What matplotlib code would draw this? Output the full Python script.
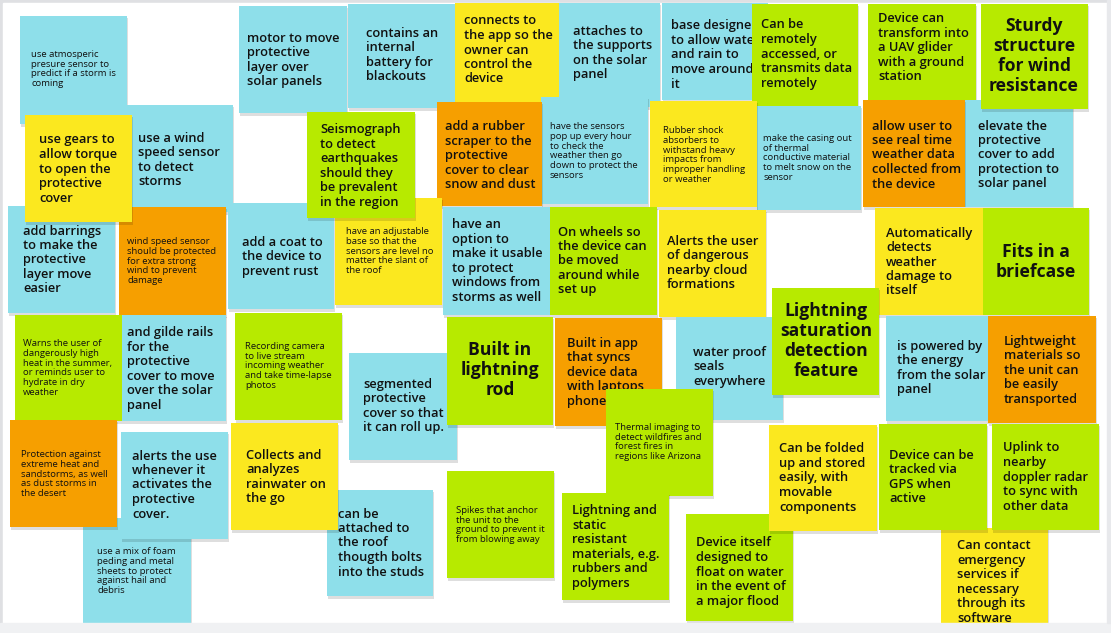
import matplotlib
matplotlib.use("Agg")
import matplotlib.pyplot as plt
from matplotlib.patches import Rectangle

# ---------------- data: note texts and their colour groups ----------------
note_texts = [
    "use atmosperic\npresure sensor to\npredict if a storm is\ncoming",
    "use a wind\nspeed sensor\nto detect\nstorms",
    "add barrings\nto make the\nprotective\nlayer move\neasier",
    "wind speed sensor\nshould be protected\nfor extra strong\nwind to prevent\ndamage",
    "use gears to\nallow torque\nto open the\nprotective\ncover",
    "motor to move\nprotective\nlayer over\nsolar panels",
    "contains an\ninternal\nbattery for\nblackouts",
    "connects to\nthe app so the\nowner can\ncontrol the\ndevice",
    "attaches to\nthe supports\non the solar\npanel",
    "base designed\nto allow water\nand rain to\nmove around\nit",
    "Can be\nremotely\naccessed, or\ntransmits data\nremotely",
    "Device can\ntransform into\na UAV glider\nwith a ground\nstation",
    "elevate the\nprotective\ncover to add\nprotection to\nsolar panel",
    "Sturdy\nstructure\nfor wind\nresistance",
    "make the casing out\nof thermal\nconductive material\nto melt snow on the\nsensor",
    "allow user to\nsee real time\nweather data\ncollected from\nthe device",
    "Rubber shock\nabsorbers to\nwithstand heavy\nimpacts from\nimproper handling\nor weather",
    "have the sensors\npop up every hour\nto check the\nweather then go\ndown to protect the\nsensors",
    "add a rubber\nscraper to the\nprotective\ncover to clear\nsnow and dust",
    "add a coat to\nthe device to\nprevent rust",
    "have an adjustable\nbase so that the\nsensors are level no\nmatter the slant of\nthe roof",
    "Seismograph\nto detect\nearthquakes\nshould they\nbe prevalent\nin the region",
    "have an\noption to\nmake it usable\nto protect\nwindows from\nstorms as well",
    "On wheels so\nthe device can\nbe moved\naround while\nset up",
    "Alerts the user\nof dangerous\nnearby cloud\nformations",
    "Automatically\ndetects\nweather\ndamage to\nitself",
    "Fits in a\nbriefcase",
    "Warns the user of\ndangerously high\nheat in the summer,\nor reminds user to\nhydrate in dry\nweather",
    "and gilde rails\nfor the\nprotective\ncover to move\nover the solar\npanel",
    "Recording camera\nto live stream\nincoming weather\nand take time-lapse\nphotos",
    "segmented\nprotective\ncover so that\nit can roll up.",
    "Built in\nlightning\nrod",
    "water proof\nseals\neverywhere",
    "Lightning\nsaturation\ndetection\nfeature",
    "Built in app\nthat syncs\ndevice data\nwith laptops\nphones",
    "Thermal imaging to\ndetect wildfires and\nforest fires in\nregions like Arizona",
    "is powered by\nthe energy\nfrom the solar\npanel",
    "Lightweight\nmaterials so\nthe unit can\nbe easily\ntransported",
    "use a mix of foam\npeding and metal\nsheets to protect\nagainst hail and\ndebris",
    "Protection against\nextreme heat and\nsandstorms, as well\nas dust storms in\nthe desert",
    "alerts the use\nwhenever it\nactivates the\nprotective\ncover.",
    "can be\nattached to\nthe roof\nthougth bolts\ninto the studs",
    "Collects and\nanalyzes\nrainwater on\nthe go",
    "Spikes that anchor\nthe unit to the\nground to prevent it\nfrom blowing away",
    "Lightning and\nstatic\nresistant\nmaterials, e.g.\nrubbers and\npolymers",
    "Device itself\ndesigned to\nfloat on water\nin the event of\na major flood",
    "Can be folded\nup and stored\neasily, with\nmovable\ncomponents",
    "Can contact\nemergency\nservices if\nnecessary\nthrough its\nsoftware",
    "Device can be\ntracked via\nGPS when\nactive",
    "Uplink to\nnearby\ndoppler radar\nto sync with\nother data",
]

note_groups = [
    "blue", "blue", "blue", "orange", "yellow",
    "blue", "blue", "yellow", "blue", "blue",
    "green", "green", "blue", "green", "blue",
    "orange", "yellow", "blue", "orange", "blue",
    "yellow", "green", "blue", "green", "yellow",
    "yellow", "green", "green", "blue", "green",
    "blue", "green", "blue", "green", "orange",
    "green", "blue", "orange", "blue", "orange",
    "blue", "blue", "yellow", "green", "green",
    "green", "yellow", "yellow", "green", "green",
]

# ---------------- layout (pixel boxes, text anchor, text size) ----------------
note_boxes = [
    (20, 16, 127, 124), (126, 105, 233, 212), (8, 206, 115, 313), (119, 207, 226, 315),
    (25, 115, 132, 222), (239, 6, 347, 113), (348, 4, 455, 108), (455, 3, 560, 105),
    (559, 3, 660, 107), (662, 3, 768, 100), (752, 4, 858, 107), (868, 4, 976, 100),
    (965, 100, 1073, 207), (981, 4, 1088, 109), (757, 106, 861, 210), (863, 100, 965, 207),
    (650, 101, 757, 207), (541, 97, 648, 204), (437, 102, 542, 206), (228, 203, 334, 309),
    (335, 198, 442, 305), (307, 112, 415, 218), (443, 207, 550, 315), (550, 207, 657, 315),
    (659, 210, 766, 317), (875, 208, 983, 315), (983, 208, 1089, 315), (15, 315, 122, 421),
    (122, 315, 226, 421), (235, 313, 342, 420), (349, 353, 457, 460), (447, 317, 553, 425),
    (676, 317, 783, 420), (772, 288, 879, 395), (555, 318, 662, 426), (606, 389, 713, 496),
    (886, 316, 988, 421), (988, 316, 1096, 423), (83, 518, 191, 630), (10, 420, 117, 527),
    (121, 432, 228, 539), (327, 490, 433, 596), (231, 423, 338, 530), (447, 471, 554, 578),
    (562, 493, 669, 600), (686, 514, 793, 621), (769, 425, 877, 531), (941, 528, 1048, 630),
    (879, 424, 987, 530), (992, 424, 1099, 530),
]

text_anchor = [
    (31, 69), (138, 160), (23, 260), (127, 261), (39, 169), (247, 60), (366, 55), (464, 50),
    (573, 53), (671, 55), (761, 54), (878, 48), (978, 155), (1034, 56), (763, 158), (872, 155),
    (663, 155), (550, 151), (445, 156), (242, 257), (346, 251), (320, 166), (452, 261), (558, 261),
    (667, 263), (886, 262), (1036, 262), (23, 368), (127, 369), (245, 366), (363, 406), (500, 370),
    (693, 367), (826, 341), (567, 372), (615, 442), (897, 368), (1004, 370), (97, 571), (21, 474),
    (132, 485), (338, 543), (246, 477), (456, 525), (572, 547), (696, 572), (779, 478), (957, 582),
    (889, 477), (1003, 477),
]

text_size = [
    "S", "M", "M", "S", "M", "M", "M", "M", "M", "M",
    "M", "M", "M", "L", "S", "M", "S", "S", "M", "M",
    "S", "M", "M", "M", "M", "M", "L", "S", "M", "S",
    "M", "L", "M", "L", "M", "S", "M", "M", "S", "S",
    "M", "M", "M", "S", "M", "M", "M", "M", "M", "M",
]

palette = {"blue": "#8edfea", "yellow": "#fbe81f", "green": "#b7ea00", "orange": "#f69f00"}
size_style = {"S": (6.8, "normal", 1.13), "M": (9.3, "semibold", 1.15), "L": (12.6, "bold", 1.15)}
FAMILY = ["Open Sans", "DejaVu Sans"]

W, H = 1111, 633
fig = plt.figure(figsize=(W / 100, H / 100), dpi=100, facecolor="#eff0f2")
ax = fig.add_axes([0, 0, 1, 1])
ax.set_xlim(0, W)
ax.set_ylim(H, 0)
ax.axis("off")

# board frame
ax.add_patch(Rectangle((0, 0), W, 3, color="#dfe0e3", zorder=0))
ax.add_patch(Rectangle((0, 0), 3, 623, color="#dfe0e3", zorder=0))
ax.add_patch(Rectangle((3, 3), 1104, 620, color="white", zorder=0.5))

z = 1
for txt, grp, box, anc, sz in zip(note_texts, note_groups, note_boxes, text_anchor, text_size):
    x0, y0, x1, y1 = box
    y1c = min(y1, 623)
    ax.add_patch(Rectangle((x0 + 0.5, y0 + 1.5), x1 - x0, y1c - y0 + 1.0,
                           facecolor=(0, 0, 0, 0.13), edgecolor="none", zorder=z))
    ax.add_patch(Rectangle((x0, y0), x1 - x0, y1c - y0,
                           facecolor=palette[grp], edgecolor="none", zorder=z + 0.1))
    fs, wt, ls = size_style[sz]
    ha = "center" if sz == "L" else "left"
    t = ax.text(anc[0], anc[1], txt, ha=ha, va="center", ma=ha, fontsize=fs,
                fontweight=wt, family=FAMILY, linespacing=ls, color="#111111",
                zorder=z + 0.2)
    t.set_clip_path(Rectangle((x0, y0), x1 - x0, y1c - y0, transform=ax.transData))
    z += 1

# bottom strip of the viewer
ax.add_patch(Rectangle((0, 623), W, H - 623, color="#f0f1f3", zorder=z + 1))
ax.add_patch(Rectangle((1107, 0), 4, 623, color="#e8e9ec", zorder=z + 1))

fig.savefig("out.png", dpi=100, facecolor=fig.get_facecolor())
